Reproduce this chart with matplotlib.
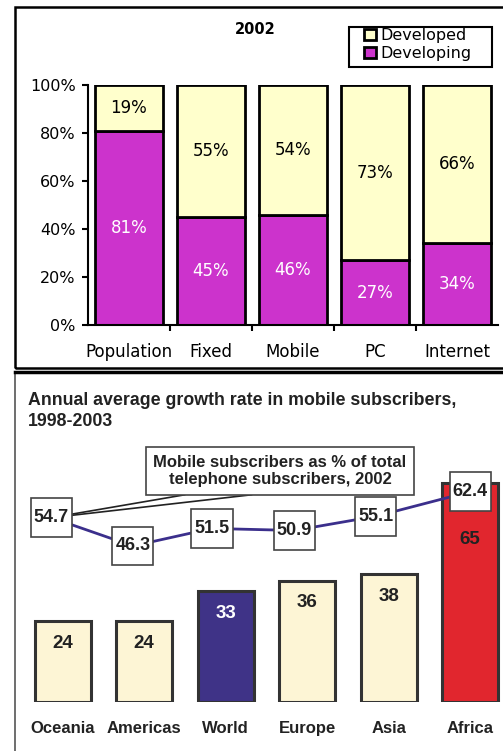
import matplotlib
matplotlib.use('Agg')
import matplotlib.pyplot as plt
from matplotlib.patches import Rectangle
from matplotlib.lines import Line2D
from matplotlib.path import Path

# ---------------- data ----------------
categories_top = ['Population', 'Fixed', 'Mobile', 'PC', 'Internet']
developing = [81, 45, 46, 27, 34]
developed = [19, 55, 54, 73, 66]
yticks_top = [0, 20, 40, 60, 80, 100]

regions = ['Oceania', 'Americas', 'World', 'Europe', 'Asia', 'Africa']
growth = [24, 24, 33, 36, 38, 65]
mobile_share = [54.7, 46.3, 51.5, 50.9, 55.1, 62.4]

# ---------------- layout helpers ----------------
W, H = 503, 751
fig = plt.figure(figsize=(W / 100, H / 100), dpi=100)
plt.rcParams['font.family'] = ['Liberation Sans', 'DejaVu Sans']


def fx(px):
    return px / W


def fy(py):
    return 1 - py / H


def make_box(padx, pady):
    def box(x0, y0, width, height, mutation_size):
        px = padx * mutation_size
        py = pady * mutation_size
        xa, ya = x0 - px, y0 - py
        xb, yb = x0 + width + px, y0 + height + py
        return Path([(xa, ya), (xb, ya), (xb, yb), (xa, yb), (xa, ya)], closed=True)
    return box


# frames
fig.patches.append(Rectangle((fx(15), fy(368)), 1.0, (368 - 7) / H,
                             transform=fig.transFigure, fill=False,
                             edgecolor='black', lw=1.8))
fig.patches.append(Rectangle((fx(15), fy(760)), 1.0, (760 - 372) / H,
                             transform=fig.transFigure, fill=False,
                             edgecolor='#555555', lw=1.2))
fig.lines.append(Line2D([fx(15), 1.0], [fy(371.5), fy(371.5)],
                        transform=fig.transFigure, color='black', lw=2.5))

# ---------------- top panel ----------------
C_DEV = '#FFFFCC'
C_DEVING = '#CC33CC'
ax1 = fig.add_axes([fx(88), fy(325), 410 / W, 240 / H])
x1 = list(range(len(categories_top)))
ax1.bar(x1, developing, width=0.83, color=C_DEVING, edgecolor='black', lw=2)
ax1.bar(x1, developed, bottom=developing, width=0.83, color=C_DEV,
        edgecolor='black', lw=2)
for i in x1:
    ax1.text(i, developing[i] / 2, f'{developing[i]}%', ha='center', va='center',
             color='white', fontsize=12, family='DejaVu Sans')
    ax1.text(i, developing[i] + developed[i] / 2, f'{developed[i]}%', ha='center',
             va='center', color='black', fontsize=12, family='DejaVu Sans')
ax1.set_xlim(-0.5, len(categories_top) - 0.5)
ax1.set_ylim(0, 100)
ax1.set_yticks(yticks_top)
ax1.set_yticklabels([f'{v}%' for v in yticks_top], family='DejaVu Sans', fontsize=11.5)
ax1.set_xticks([i + 0.5 for i in x1[:-1]])
ax1.set_xticklabels([])
ax1.set_xticks(x1, minor=True)
ax1.set_xticklabels(categories_top, minor=True, family='DejaVu Sans', fontsize=12)
ax1.tick_params(axis='x', which='minor', length=0, pad=13)
ax1.tick_params(axis='x', which='major', length=4, width=1.5, direction='out')
ax1.tick_params(axis='y', length=4, width=1.5, direction='out', pad=5)
for s in ['top', 'right']:
    ax1.spines[s].set_visible(False)
for s in ['left', 'bottom']:
    ax1.spines[s].set_linewidth(1.5)
ax1.set_facecolor('none')

fig.text(fx(255), fy(29), '2002', ha='center', va='center', fontsize=10.5,
         fontweight='bold', family='DejaVu Sans')
fig.patches.append(Rectangle((fx(349), fy(67)), (492 - 349) / W, 40 / H,
                             transform=fig.transFigure, fill=False,
                             edgecolor='black', lw=1.5))
handles = [Rectangle((0, 0), 1, 1, facecolor=C_DEV, edgecolor='black', lw=2),
           Rectangle((0, 0), 1, 1, facecolor=C_DEVING, edgecolor='black', lw=2)]
leg = fig.legend(handles, ['Developed', 'Developing'], loc='upper left',
                 bbox_to_anchor=(fx(364), fy(28)), frameon=False,
                 borderpad=0, handlelength=0.75, handleheight=0.75,
                 handletextpad=0.25, labelspacing=0.2,
                 prop={'family': 'DejaVu Sans', 'size': 11.5}, borderaxespad=0)

# ---------------- bottom panel ----------------
PX_PER_UNIT = 3.37
YMAX = 76
ax2 = fig.add_axes([fx(22), fy(702), 489 / W, YMAX * PX_PER_UNIT / H])
x2 = list(range(len(regions)))
bar_colors = ['#FDF5D5', '#FDF5D5', '#3F3387', '#FDF5D5', '#FDF5D5', '#E1262E']
label_colors = ['#222222', '#222222', 'white', '#222222', '#222222', '#222222']
label_drop = [16, 16, 16, 16, 16, 41]  # points below bar top
ax2.bar(x2, growth, width=0.69, color=bar_colors, edgecolor='#333333', lw=2.2)
for i in x2:
    ax2.annotate(str(growth[i]), (i, growth[i]), xytext=(0, -label_drop[i]),
                 textcoords='offset points', ha='center', va='center',
                 fontsize=13.5, fontweight='bold', color=label_colors[i])

line_shift = [-0.14, -0.14, -0.17, -0.16, -0.16, 0.0]
xl = [x2[i] + line_shift[i] for i in x2]
ax2.plot(xl, mobile_share, color='#3B2F8C', lw=2, zorder=3)
for i in x2:
    ax2.text(xl[i], mobile_share[i], f'{mobile_share[i]:.1f}', ha='center',
             va='center', fontsize=13, fontweight='bold', color='#222222',
             zorder=5,
             bbox=dict(boxstyle=make_box(0.17, 0.6), fc='white', ec='#444444', lw=1.2))

# callout
ax2.text(2.666, 68.6, 'Mobile subscribers as % of total\ntelephone subscribers, 2002',
         ha='center', va='center', fontsize=12, fontweight='bold', color='#222222',
         linespacing=1.15, zorder=5,
         bbox=dict(boxstyle=make_box(0.42, 0.48), fc='white', ec='#444444', lw=1.2))
for sx in [1.5, 2.32]:
    ax2.annotate('', xy=(xl[0], mobile_share[0]), xytext=(sx, 61.5),
                 arrowprops=dict(arrowstyle='-', color='#222222', lw=1.2,
                                 shrinkA=0, shrinkB=0), zorder=4)

ax2.set_xlim(-0.5, len(regions) - 0.5)
ax2.set_ylim(0, YMAX)
ax2.set_xticks(x2)
ax2.set_xticklabels(regions, fontsize=12, fontweight='bold', color='#222222')
ax2.tick_params(axis='x', length=0, pad=14)
ax2.set_yticks([])
for s in ax2.spines.values():
    s.set_visible(False)
ax2.set_facecolor('none')

fig.text(fx(28), fy(392), 'Annual average growth rate in mobile subscribers,\n1998-2003',
         ha='left', va='top', fontsize=12.8, fontweight='bold', color='#222222',
         linespacing=1.32)

fig.savefig('out.png', dpi=100)
